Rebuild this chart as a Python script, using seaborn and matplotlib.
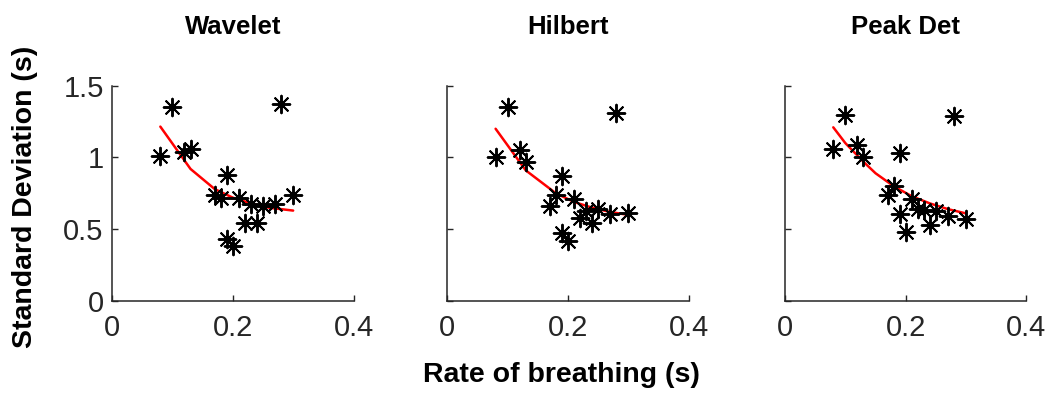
import matplotlib
matplotlib.use("Agg")
import matplotlib.pyplot as plt
import seaborn as sns
import numpy as np
import pandas as pd

# Breathing rate (shared by all three methods)
rate = [0.08, 0.10, 0.12, 0.13, 0.17, 0.18, 0.19, 0.19, 0.20,
        0.21, 0.22, 0.23, 0.24, 0.25, 0.27, 0.28, 0.30]

# Standard deviation per method
wavelet_sd = [1.01, 1.35, 1.035, 1.058, 0.736, 0.72, 0.881, 0.432, 0.381,
              0.72, 0.544, 0.678, 0.544, 0.661, 0.678, 1.369, 0.736]
hilbert_sd = [1.00, 1.35, 1.051, 0.97, 0.661, 0.736, 0.871, 0.474, 0.416,
              0.713, 0.579, 0.626, 0.544, 0.643, 0.603, 1.308, 0.615]
peakdet_sd = [1.058, 1.297, 1.086, 1.00, 0.736, 0.801, 1.030, 0.603, 0.481,
              0.713, 0.638, 0.633, 0.528, 0.626, 0.591, 1.292, 0.572]

# Fitted trend lines
wavelet_fit_x = [0.08, 0.13, 0.17, 0.20, 0.23, 0.26, 0.30]
wavelet_fit_y = [1.215, 0.92, 0.78, 0.72, 0.68, 0.65, 0.63]
hilbert_fit_x = [0.08, 0.13, 0.18, 0.21, 0.24, 0.27, 0.30]
hilbert_fit_y = [1.20, 0.91, 0.75, 0.69, 0.65, 0.62, 0.60]
peakdet_fit_x = [0.08, 0.10, 0.13, 0.15, 0.18, 0.21, 0.24, 0.27, 0.30]
peakdet_fit_y = [1.21, 1.10, 0.97, 0.89, 0.80, 0.73, 0.68, 0.64, 0.61]

titles = ["Wavelet", "Hilbert", "Peak Det"]
x_ticks = [0, 0.2, 0.4]
x_tick_labels = ["0", "0.2", "0.4"]
y_ticks = [0, 0.5, 1, 1.5]
y_tick_labels = ["0", "0.5", "1", "1.5"]

sns.set_theme(style="ticks")
plt.rcParams["font.family"] = ["Liberation Sans", "DejaVu Sans"]

fig = plt.figure(figsize=(10.5, 3.94), dpi=100)
lefts = [0.1067, 0.426, 0.7476]
width = 0.2300
bottom = 0.236
height = 0.5465

series = [
    (wavelet_sd, wavelet_fit_x, wavelet_fit_y),
    (hilbert_sd, hilbert_fit_x, hilbert_fit_y),
    (peakdet_sd, peakdet_fit_x, peakdet_fit_y),
]

for i, (sd, fx, fy) in enumerate(series):
    ax = fig.add_axes([lefts[i], bottom, width, height])
    pts = pd.DataFrame({"rate": rate, "sd": sd})
    fit = pd.DataFrame({"rate": fx, "sd": fy})
    sns.lineplot(data=fit, x="rate", y="sd", ax=ax, color="red", lw=1.8,
                 zorder=3)
    sns.scatterplot(data=pts, x="rate", y="sd", ax=ax, marker=(8, 2, 0),
                    s=160, color="black", edgecolor="black", linewidth=1.4,
                    zorder=4)
    ax.set_xlim(0, 0.4)
    ax.set_ylim(0, 1.5)
    ax.set_xticks(x_ticks)
    ax.set_xticklabels(x_tick_labels)
    ax.set_yticks(y_ticks)
    if i == 0:
        ax.set_yticklabels(y_tick_labels)
    else:
        ax.set_yticklabels([])
    ax.tick_params(direction="in", length=4, width=1, colors="#262626",
                   labelsize=21, labelcolor="#262626", pad=6)
    ax.tick_params(axis="x", pad=9)
    for side in ("left", "bottom"):
        ax.spines[side].set_linewidth(1.1)
        ax.spines[side].set_color("#262626")
    sns.despine(ax=ax)
    ax.set_xlabel("")
    ax.set_ylabel("")
    ax.set_title(titles[i], fontsize=18.5, fontweight="bold", pad=37,
                 color="black")

fig.text(0.535, 0.048, "Rate of breathing (s)", ha="center", va="center",
         fontsize=20.5, fontweight="bold", color="black")
fig.text(0.024, 0.5, "Standard Deviation (s)", ha="center", va="center",
         rotation=90, fontsize=20.5, fontweight="bold", color="black")

fig.savefig("out.png", dpi=100, facecolor="white")
